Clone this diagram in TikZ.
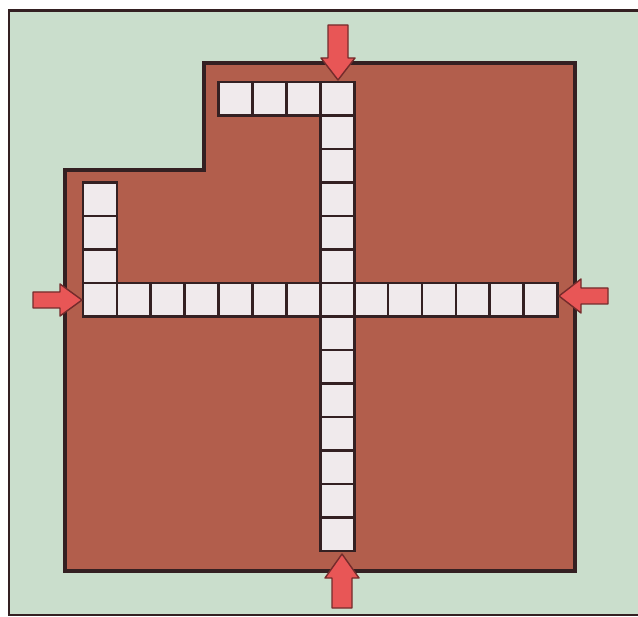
\documentclass[tikz,border=0pt]{standalone}
\definecolor{bgmint}{RGB}{202,222,204}
\definecolor{boardbrown}{RGB}{178,94,76}
\definecolor{cellwhite}{RGB}{240,234,236}
\definecolor{inkline}{RGB}{52,32,34}
\definecolor{arrowred}{RGB}{232,86,86}
\tikzset{
  cellbox/.style={fill=cellwhite, draw=inkline, line width=1.5pt},
  pusharrow/.style={fill=arrowred, draw=arrowred!50!black, line width=0.8pt, line join=round}
}
\newcommand{\cellat}[2]{\filldraw[cellbox] ({83+#1*33.9},{82+#2*33.5}) rectangle ++(33.9,33.5);}
\begin{document}
\begin{tikzpicture}[x=0.02cm,y=-0.02cm]
    \useasboundingbox (0,0) rectangle (638,617);
    \fill[white] (0,0) rectangle (638,617);
    % frame and board
    \filldraw[fill=bgmint, draw=inkline, line width=1.7pt] (9,11) rectangle (660,615);
    \filldraw[fill=boardbrown, draw=inkline, line width=1.9pt]
        (65,170) -- (204,170) -- (204,63) -- (575,63) -- (575,571) -- (65,571) -- cycle;
    % cells
    \foreach \c in {0,...,13} {\cellat{\c}{6}}
    \foreach \r in {0,...,13} {\cellat{7}{\r}}
    \foreach \c in {4,5,6} {\cellat{\c}{0}}
    \foreach \r in {3,4,5} {\cellat{0}{\r}}
    % arrows
    \filldraw[pusharrow] (328,25) -- (348,25) -- (348,58) -- (355,58) -- (338,80) -- (321,58) -- (328,58) -- cycle;
    \filldraw[pusharrow] (33,292) -- (60,292) -- (60,284) -- (82,300) -- (60,316) -- (60,308) -- (33,308) -- cycle;
    \filldraw[pusharrow] (608,288) -- (581,288) -- (581,279) -- (559,296) -- (581,313) -- (581,304) -- (608,304) -- cycle;
    \filldraw[pusharrow] (332,608) -- (352,608) -- (352,578) -- (359,578) -- (342,554) -- (325,578) -- (332,578) -- cycle;
\end{tikzpicture}
\end{document}
